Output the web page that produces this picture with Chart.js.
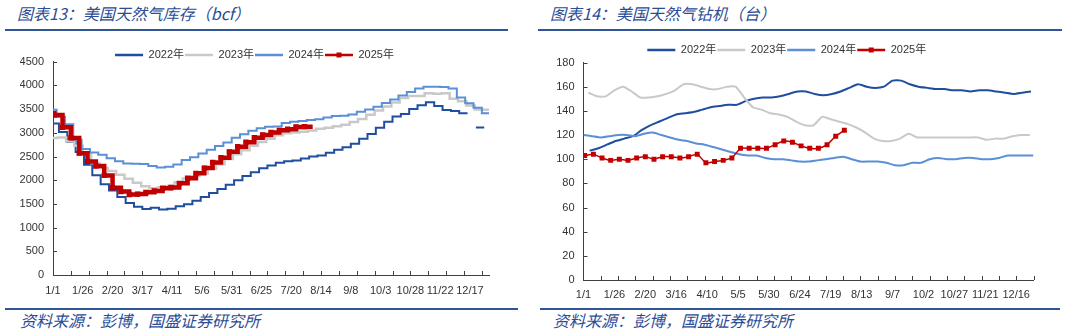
<!DOCTYPE html>
<html lang="zh">
<head>
<meta charset="utf-8">
<title>美国天然气库存与钻机</title>
<script src="https://cdn.jsdelivr.net/npm/chart.js@4.4.1/dist/chart.umd.min.js"></script>
<style>
  html, body { margin: 0; padding: 0; background: #fff; }
  body { position: relative; width: 1066px; height: 334px; overflow: hidden; }
  .title, .source {
    position: absolute; margin: 0; white-space: nowrap;
    font-family: "Noto Sans CJK SC", sans-serif; font-style: italic; font-weight: normal;
    font-size: 16px; line-height: 16px; color: #2b4c96;
  }
  .title { top: 5px; }
  .source { top: 312px; }
  .rule { position: absolute; height: 2px; background: #2f5597; }
  canvas { position: absolute; }
</style>
</head>
<body>
<div class="title" style="left:17px">图表13：美国天然气库存（bcf）</div>
<div class="title" style="left:550px">图表14：美国天然气钻机（台）</div>
<div class="rule" style="left:5px; width:503px; top:29px"></div>
<div class="rule" style="left:538px; width:524px; top:29px"></div>
<canvas id="storageChart" width="512" height="264" style="left:0; top:36px"></canvas>
<canvas id="rigChart" width="516" height="269" style="left:540px; top:36px"></canvas>
<div class="rule" style="left:5px; width:513px; top:308px"></div>
<div class="rule" style="left:540px; width:520px; top:308px"></div>
<div class="source" style="left:20px">资料来源：彭博，国盛证券研究所</div>
<div class="source" style="left:553px">资料来源：彭博，国盛证券研究所</div>
<script>
// ---- storage, bcf (first entry = prior year-end level, then weekly reports) ----
const storTickLabels = ['1/1', '1/26', '2/20', '3/17', '4/11', '5/6', '5/31', '6/25', '7/20', '8/14', '9/8', '10/3', '10/28', '11/22', '12/17'];
const storYears = ['2022年', '2023年', '2024年', '2025年'];
const storFirstDay = [5, 4, 3, 1];
const stor2022 = [3194, 3018, 2812, 2593, 2325, 2103, 1913, 1784, 1645, 1521, 1442, 1391, 1417, 1384, 1400, 1450, 1490, 1567,
  1643, 1732, 1812, 1902, 1999, 2091, 2169, 2251, 2311, 2369, 2401, 2416, 2457, 2501, 2519, 2579, 2640, 2694, 2771, 2874,
  2977, 3106, 3231, 3342, 3394, 3501, 3580, 3644, 3564, 3483, 3462, 3412, null, 3111];
const stor2023 = [2891, 2902, 2820, 2729, 2576, 2359, 2259, 2195, 2114, 2030, 1946, 1874, 1830, 1853, 1878, 1955, 2034, 2088,
  2141, 2240, 2336, 2446, 2550, 2634, 2729, 2805, 2877, 2949, 2990, 3006, 3022, 3051, 3086, 3104, 3136, 3169, 3226, 3290,
  3380, 3470, 3554, 3637, 3734, 3779, 3779, 3833, 3826, 3836, 3719, 3664, 3577, 3490, 3487];
const stor2024 = [3487, 3336, 3182, 2856, 2659, 2584, 2535, 2463, 2400, 2350, 2345, 2340, 2300, 2270, 2283, 2333, 2425, 2484,
  2563, 2642, 2720, 2795, 2893, 2967, 3045, 3097, 3129, 3134, 3209, 3231, 3249, 3270, 3286, 3321, 3356, 3361, 3387, 3445,
  3492, 3547, 3629, 3705, 3785, 3863, 3932, 3974, 3969, 3967, 3937, 3747, 3622, 3529, 3413];
const stor2025 = [3413, 3373, 3115, 2892, 2571, 2397, 2297, 2101, 1840, 1760, 1698, 1707, 1744, 1773, 1830, 1846, 1934, 2041,
  2145, 2255, 2375, 2476, 2598, 2707, 2802, 2898, 2953, 3006, 3052, 3075, 3123, 3130];

// ---- gas rig count, weekly ----
const rigTickLabels = ['1/1', '1/26', '2/20', '3/16', '4/10', '5/5', '5/30', '6/24', '7/19', '8/13', '9/7', '10/2', '10/27', '11/21', '12/16'];
const rigFirstDay = [5, 4, 0, 1];
const rig2022 = [107, 109, 112, 115, 117, 119, 124, 128, 131, 134, 137, 138, 139, 141, 143, 144, 145, 145, 148, 150, 151, 151,
  152, 154, 156, 156, 154, 153, 154, 156, 159, 162, 160, 159, 160, 165, 165, 162, 160, 159, 158, 158, 157, 157, 156, 157,
  157, 156, 155, 154, 155, 156];
const rig2023 = [155, 152, 152, 157, 160, 156, 151, 151, 152, 154, 157, 162, 162, 160, 158, 158, 160, 160, 151, 143, 141, 138,
  137, 135, 131, 128, 128, 135, 133, 131, 129, 126, 122, 117, 115, 115, 117, 121, 118, 118, 118, 118, 118, 118, 118, 118,
  116, 117, 117, 119, 120, 120];
const rig2024 = [120, 119, 118, 119, 120, 120, 119, 121, 122, 120, 118, 116, 115, 113, 112, 110, 108, 106, 104, 103, 103, 101,
  100, 100, 99, 98, 98, 99, 100, 101, 102, 100, 98, 98, 98, 97, 95, 95, 97, 97, 100, 101, 100, 100, 101, 101, 100, 100,
  101, 103, 103, 103, 103];
const rig2025 = [103, 104, 101, 99, 100, 99, 101, 102, 100, 102, 102, 101, 102, 104, 97, 98, 99, 101, 109, 109, 109, 109,
  112, 115, 114, 111, 109, 109, 112, 119, 124];

const colors = ['#1f4e9f', '#c9c9c9', '#5b8fd6', '#c00000'];
const axisColor = '#404040';

Chart.defaults.font.family = '"Liberation Sans", "Noto Sans CJK SC", sans-serif';
Chart.defaults.font.size = 11;
Chart.defaults.color = '#333';

// weekly levels hold until the next report; the last one is carried a week further
function stepPoints(values, firstDay) {
    const pts = [{ x: 0, y: values[0], ext: true }];
    for (let i = 1; i < values.length; i++) {
        const d = firstDay + 7 * (i - 1);
        const v = values[i];
        if (v === null) {
            pts.push({ x: d, y: null });
            continue;
        }
        pts.push({ x: d, y: v });
        const next = values[i + 1];
        if (next === null || next === undefined) {
            pts.push({ x: d + 7, y: v, ext: true });
        }
    }
    return pts;
}

function weeklyPoints(values, firstDay) {
    return values.map((v, i) => ({ x: firstDay + 7 * i, y: v }));
}

// small tick marks drawn on the inside of both axes
const innerTicks = {
    id: 'innerTicks',
    beforeDatasetsDraw(chart, args, opts) {
        const { ctx, chartArea, scales } = chart;
        ctx.save();
        ctx.strokeStyle = axisColor;
        ctx.lineWidth = 1;
        ctx.beginPath();
        opts.xMarks.forEach(d => {
            const px = Math.round(scales.x.getPixelForValue(d)) + 0.5;
            ctx.moveTo(px, chartArea.bottom);
            ctx.lineTo(px, chartArea.bottom - 4);
        });
        scales.y.ticks.forEach(t => {
            if (t.value === 0) return;
            const py = Math.round(scales.y.getPixelForValue(t.value)) + 0.5;
            ctx.moveTo(chartArea.left, py);
            ctx.lineTo(chartArea.left + 4, py);
        });
        ctx.stroke();
        ctx.restore();
    }
};

// square marker on the 2025 legend sample
const legendMarker = {
    id: 'legendMarker',
    afterDraw(chart, args, opts) {
        const lg = chart.legend;
        if (!lg || !lg.legendHitBoxes || !lg.legendHitBoxes[3]) return;
        const box = lg.legendHitBoxes[3];
        const cx = box.left + 14;
        const cy = box.top + box.height / 2;
        chart.ctx.save();
        chart.ctx.fillStyle = colors[3];
        chart.ctx.fillRect(cx - opts.size / 2, cy - opts.size / 2, opts.size, opts.size);
        chart.ctx.restore();
    }
};

function legendOptions(maxHeight) {
    return {
        position: 'top',
        align: 'center',
        maxHeight: maxHeight,
        labels: {
            usePointStyle: true,
            pointStyleWidth: 28,
            boxHeight: 11,
            padding: 1,
            color: '#333',
            font: { size: 11 },
            sort: (a, b) => a.datasetIndex - b.datasetIndex,
            generateLabels(chart) {
                const items = Chart.defaults.plugins.legend.labels.generateLabels(chart);
                items.forEach(it => {
                    it.pointStyle = 'line';
                    it.lineWidth = 2.5;
                });
                return items;
            }
        }
    };
}

function marks(step, max) {
    const out = [];
    for (let d = step; d <= max; d += step) out.push(d);
    return out;
}

function xAxis(max, labels, markStep, labelPad) {
    return {
        type: 'linear',
        min: 0,
        max: max,
        grid: { display: false, drawTicks: false },
        border: { display: true, color: axisColor, width: 1 },
        afterBuildTicks(axis) {
            const vals = labels.map((_, i) => i * 25).concat(marks(markStep, max));
            const uniq = Array.from(new Set(vals)).sort((a, b) => a - b);
            axis.ticks = uniq.map(v => ({ value: v }));
        },
        afterFit(axis) { axis.height = 25; },
        ticks: {
            autoSkip: false,
            maxRotation: 0,
            padding: labelPad,
            color: '#333',
            callback: v => (v % 25 === 0 && labels[v / 25] !== undefined) ? labels[v / 25] : ''
        }
    };
}

function yAxis(max, step, width) {
    return {
        min: 0,
        max: max,
        grid: { display: false, drawTicks: false },
        border: { display: true, color: axisColor, width: 1 },
        afterFit(axis) { axis.width = width; },
        ticks: { stepSize: step, padding: 9, color: '#333', callback: v => String(v) }
    };
}

const storSeries = [stor2022, stor2023, stor2024, stor2025];
new Chart(document.getElementById('storageChart'), {
    type: 'line',
    data: {
        datasets: storSeries.map((vals, i) => ({
            label: storYears[i],
            data: stepPoints(vals, storFirstDay[i]),
            stepped: true,
            spanGaps: false,
            borderColor: colors[i],
            backgroundColor: colors[i],
            borderWidth: i === 3 ? 4.5 : (i === 1 ? 2.5 : 2),
            pointStyle: 'rect',
            pointRadius: ctx => (i === 3 && ctx.raw && !ctx.raw.ext) ? 3.8 : 0,
            pointBorderWidth: 0,
            pointHoverRadius: 0,
            order: 3 - i
        }))
    },
    options: {
        responsive: false,
        animation: false,
        events: [],
        layout: { padding: { left: 20, right: 23, top: 12.5, bottom: 0 } },
        scales: {
            x: xAxis(366, storTickLabels, 15, 9),
            y: yAxis(4500, 500, 33)
        },
        plugins: {
            legend: legendOptions(13.2),
            tooltip: { enabled: false },
            innerTicks: { xMarks: marks(15, 366) },
            legendMarker: { size: 5 }
        }
    },
    plugins: [innerTicks, legendMarker]
});

const rigSeries = [rig2022, rig2023, rig2024, rig2025];
new Chart(document.getElementById('rigChart'), {
    type: 'line',
    data: {
        datasets: rigSeries.map((vals, i) => ({
            label: storYears[i],
            data: weeklyPoints(vals, rigFirstDay[i]),
            borderColor: colors[i],
            backgroundColor: colors[i],
            borderWidth: i === 3 ? 1.5 : 2,
            tension: 0.2,
            pointStyle: 'rect',
            pointRadius: i === 3 ? 3.5 : 0,
            pointBorderWidth: 0,
            pointHoverRadius: 0,
            order: 3 - i
        }))
    },
    options: {
        responsive: false,
        animation: false,
        events: [],
        layout: { padding: { left: 0, right: 22.5, top: 7.5, bottom: 0 } },
        scales: {
            x: xAxis(364, rigTickLabels, 14, 8.5),
            y: yAxis(180, 20, 43.5)
        },
        plugins: {
            legend: legendOptions(19),
            tooltip: { enabled: false },
            innerTicks: { xMarks: marks(14, 364) },
            legendMarker: { size: 5 }
        }
    },
    plugins: [innerTicks, legendMarker]
});
</script>
</body>
</html>
